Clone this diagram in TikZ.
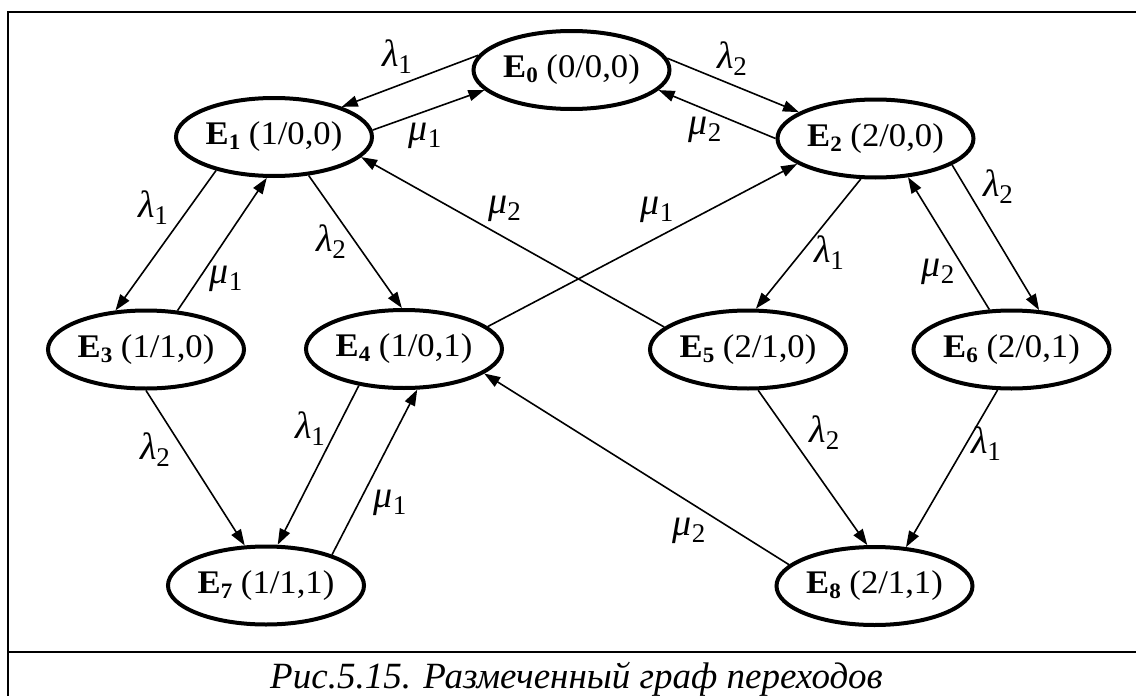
\documentclass[tikz,border=0pt]{standalone}
\usepackage{fontspec}
\setmainfont{Liberation Serif}
\usetikzlibrary{shapes.geometric,arrows.meta}
\newcommand\stt[2]{\makebox[0pt]{\scalebox{1.05}[1]{\fontsize{33}{38}\selectfont\textbf{E}\raisebox{-5pt}{\fontsize{22}{22}\selectfont\bfseries #1}~(#2)}}}
\newcommand\gl[2]{{\fontsize{38}{38}\selectfont\itshape #1\raisebox{-7pt}{\fontsize{27}{27}\selectfont\upshape #2}}}
\tikzset{
  state/.style={ellipse, draw, line width=4pt, minimum width=196pt, minimum height=78pt, inner sep=0pt},
  edge/.style={line width=1.6pt, -{Triangle[length=16pt,width=11pt]}},
  frameline/.style={line width=2pt},
  lbl/.style={inner sep=0pt}
}
\begin{document}
\begin{tikzpicture}[x=1pt,y=-1pt]
\useasboundingbox (0,0) rectangle (1136,696);
\draw[frameline] (8,697) -- (8,12) -- (1137,12);
\draw[frameline] (8,652) -- (1137,652);

\node[state] (E0) at (571.5,70) {\stt{0}{0/0,0}};
\node[state] (E1) at (274,137) {\stt{1}{1/0,0}};
\node[state] (E2) at (875.5,138.5) {\stt{2}{2/0,0}};
\node[state] (E3) at (146,349.5) {\stt{3}{1/1,0}};
\node[state] (E4) at (404,349) {\stt{4}{1/0,1}};
\node[state] (E5) at (748,349.5) {\stt{5}{2/1,0}};
\node[state] (E6) at (1011.5,349.5) {\stt{6}{2/0,1}};
\node[state] (E7) at (266,585.5) {\stt{7}{1/1,1}};
\node[state] (E8) at (874.5,586) {\stt{8}{2/1,1}};

\draw[edge] (E0.171.2) -- (E1.24.7);
\draw[edge] (E1.4) -- (E0.193);
\draw[edge] (E0.7.95) -- (E2.161.2);
\draw[edge] (E2.180.9) -- (E0.-13.3);
\draw[edge] (E1.210.8) -- (E3.128.1);
\draw[edge] (E3.51.2) -- (E1.260.2);
\draw[edge] (E1.-48.8) -- (E4.93.2);
\draw[edge] (E5.165.2) -- (E1.-13.5);
\draw[edge] (E4.15.9) -- (E2.198.9);
\draw[edge] (E2.250.5) -- (E5.79.6);
\draw[edge] (E2.-19.9) -- (E6.55.3);
\draw[edge] (E6.119.4) -- (E2.-50.5);
\draw[edge] (E3.270) -- (E7.118.4);
\draw[edge] (E4.219.7) -- (E7.74);
\draw[edge] (E7.25.9) -- (E4.-72.3);
\draw[edge] (E5.-76.6) -- (E8.100.2);
\draw[edge] (E6.251.7) -- (E8.51.6);
\draw[edge] (E8.166.4) -- (E4.-17.5);

\node[lbl] (l1) at (397,57) {\gl{λ}{1}};
\node[lbl] (l2) at (425,136) {\gl{μ}{1}};
\node[lbl] (l3) at (732,59) {\gl{λ}{2}};
\node[lbl] (l4) at (705,130) {\gl{μ}{2}};
\node[lbl] (l5) at (153,207.5) {\gl{λ}{1}};
\node[lbl] (l6) at (226,279) {\gl{μ}{1}};
\node[lbl] (l7) at (331,241.7) {\gl{λ}{2}};
\node[lbl] (l8) at (504.6,209) {\gl{μ}{2}};
\node[lbl] (l9) at (657,210) {\gl{μ}{1}};
\node[lbl] (l10) at (829,253) {\gl{λ}{1}};
\node[lbl] (l11) at (998,186.7) {\gl{λ}{2}};
\node[lbl] (l12) at (938,271.7) {\gl{μ}{2}};
\node[lbl] (l13) at (155,450) {\gl{λ}{2}};
\node[lbl] (l14) at (310,429) {\gl{λ}{1}};
\node[lbl] (l15) at (390,503) {\gl{μ}{1}};
\node[lbl] (l16) at (824.5,433) {\gl{λ}{2}};
\node[lbl] (l17) at (986,444) {\gl{λ}{1}};
\node[lbl] (l18) at (689,531) {\gl{μ}{2}};

\node[anchor=base, inner sep=0pt] (cap) at (576.5,688) {{\fontsize{37}{42}\selectfont\itshape Рис.5.15. Размеченный граф переходов}};
\end{tikzpicture}
\end{document}
